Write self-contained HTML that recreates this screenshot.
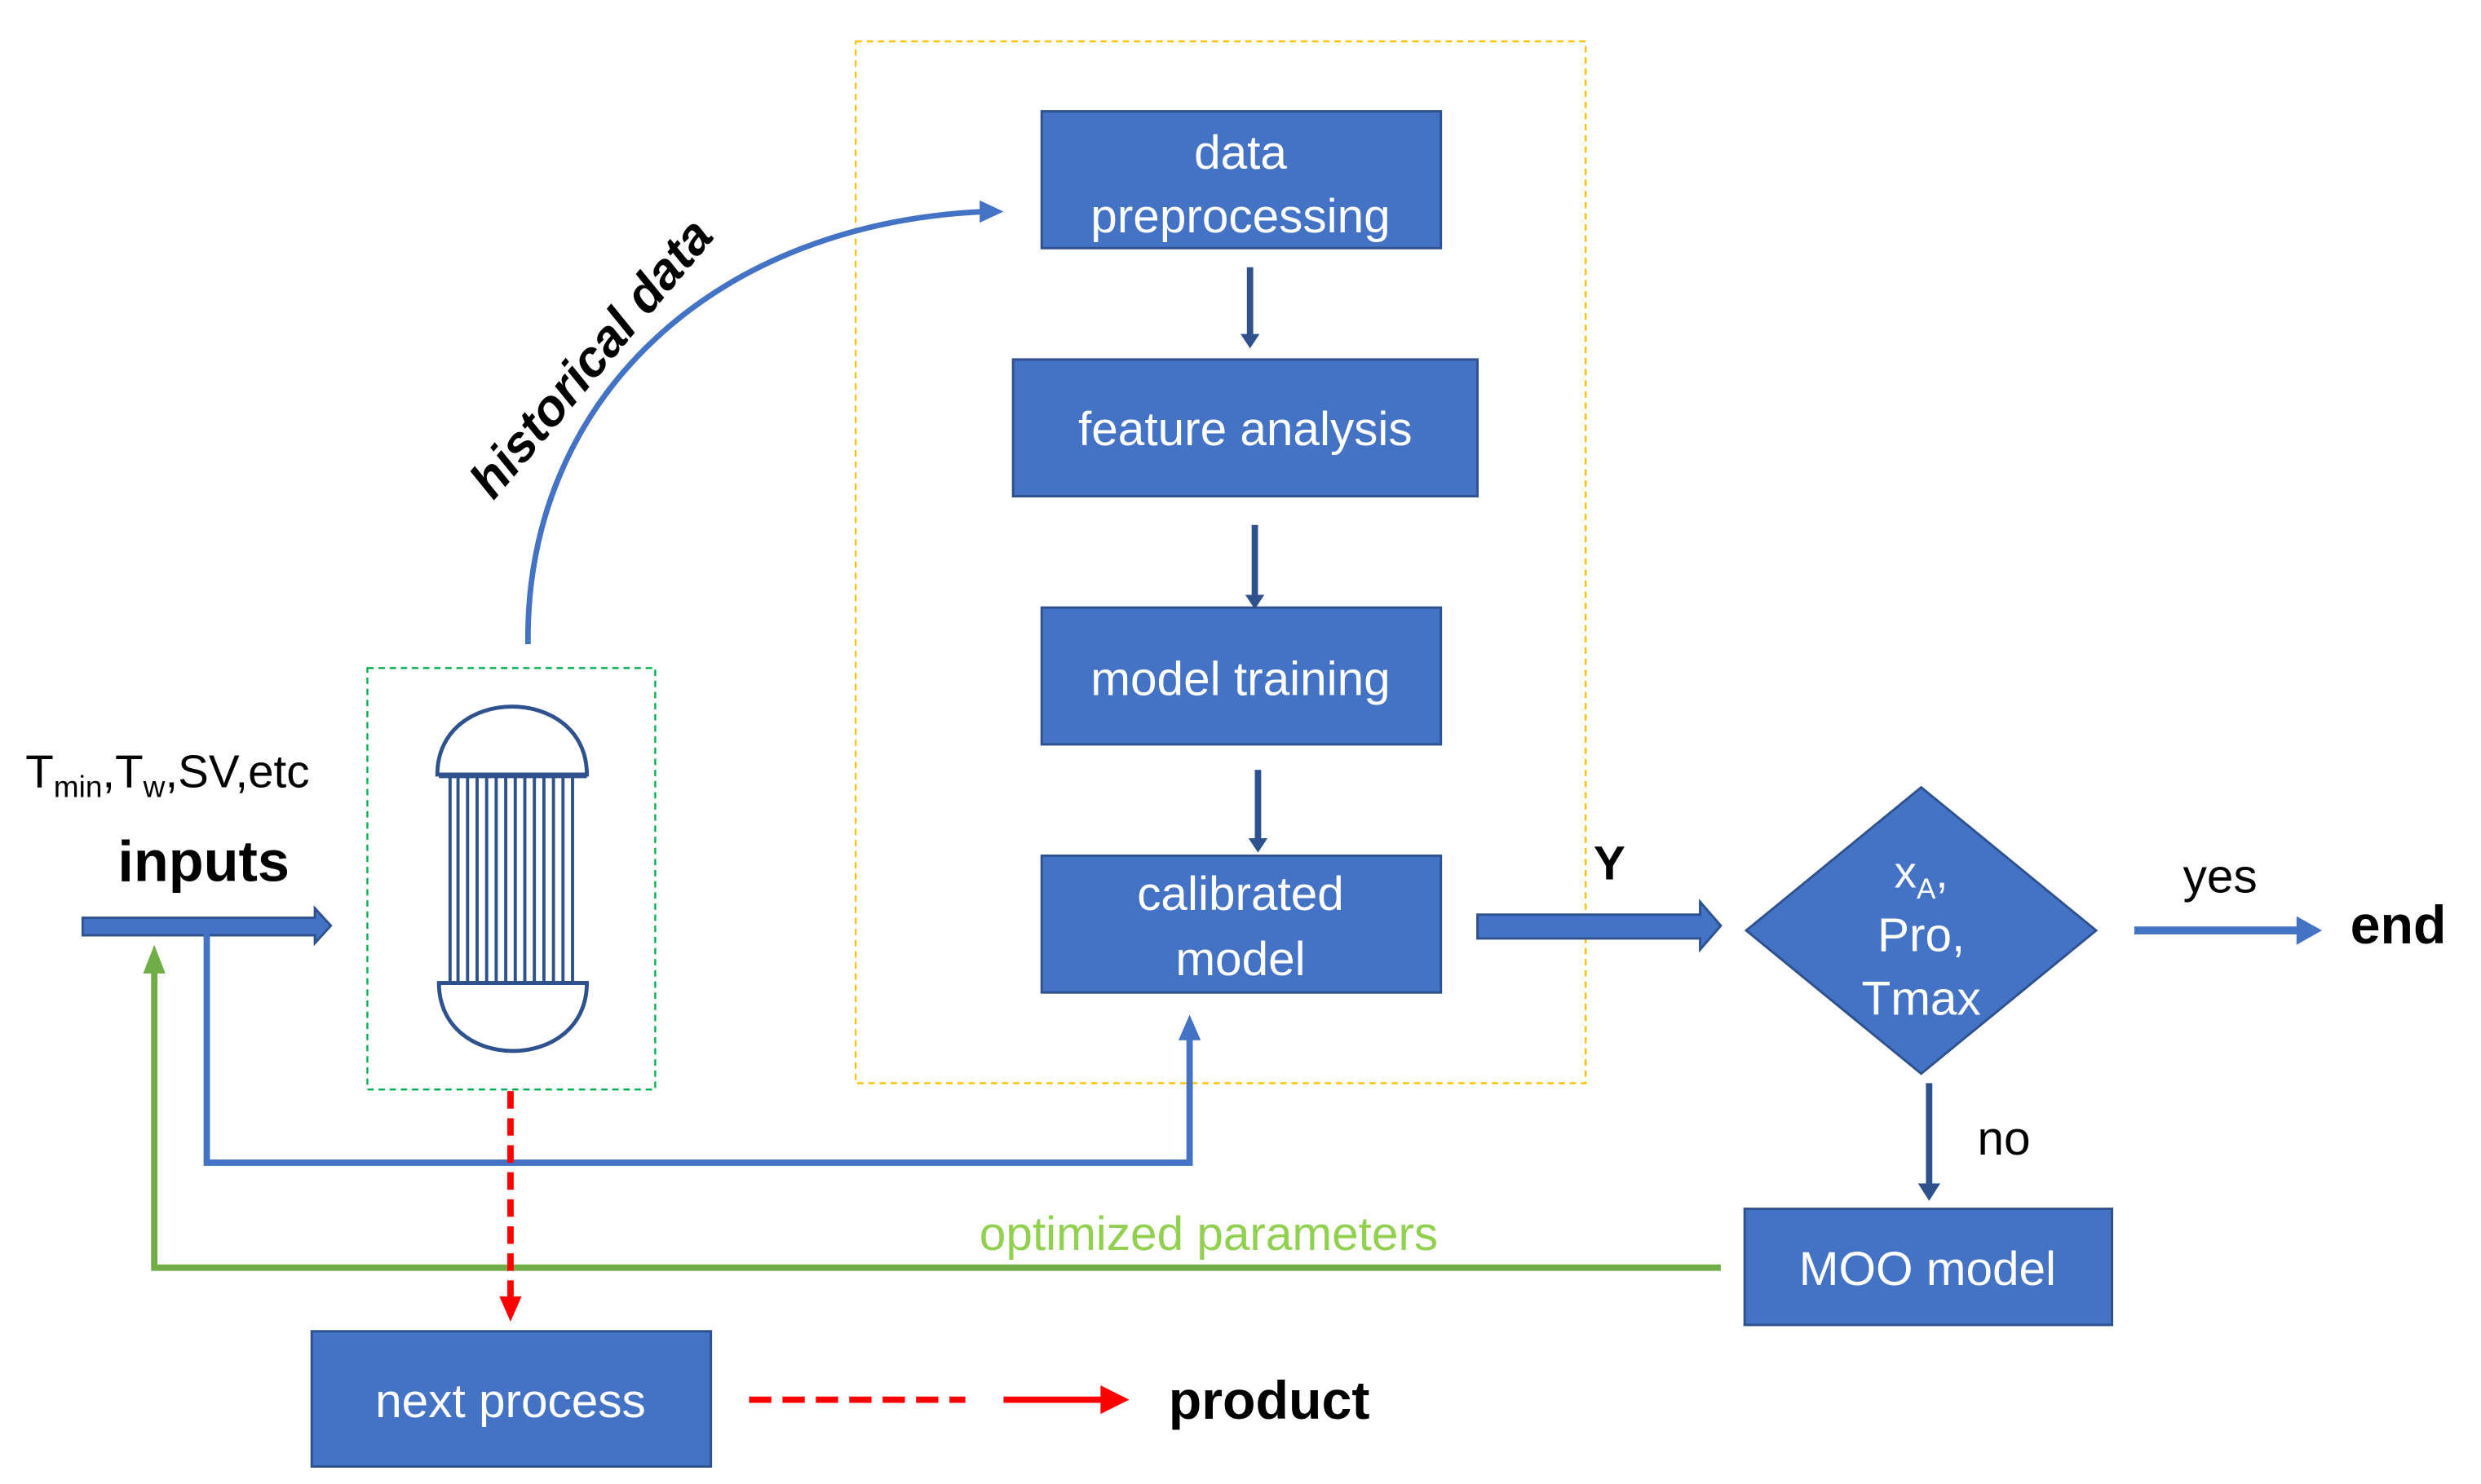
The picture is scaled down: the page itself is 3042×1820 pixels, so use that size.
<!DOCTYPE html>
<html><head><meta charset="utf-8"><style>html,body{margin:0;padding:0;background:#fff}svg{display:block}</style></head>
<body>
<svg width="3042" height="1820" viewBox="0 0 1560 933" preserveAspectRatio="none" xmlns="http://www.w3.org/2000/svg" font-family="Liberation Sans, sans-serif">
<!-- dashed boxes -->
<rect x="538" y="26" width="459" height="655" fill="none" stroke="#ffc000" stroke-width="1.2" stroke-dasharray="4,3"/>
<rect x="231" y="420" width="181" height="265" fill="none" stroke="#00b050" stroke-width="1.2" stroke-dasharray="4,3"/>
<!-- boxes -->
<g fill="#4472c4" stroke="#2f528f" stroke-width="1.5">
<rect x="655" y="70" width="251" height="86"/>
<rect x="637" y="226" width="292" height="86"/>
<rect x="655" y="382" width="251" height="86"/>
<rect x="655" y="538" width="251" height="86"/>
<rect x="1097" y="760" width="231" height="73"/>
<rect x="196" y="837" width="251" height="85"/>
<polygon points="1208,495 1318,585 1208,675 1098,585"/>
</g>
<g fill="#fff" font-size="30" text-anchor="middle">
<text x="780" y="106">data</text>
<text x="780" y="146">preprocessing</text>
<text x="783" y="280">feature analysis</text>
<text x="780" y="437">model training</text>
<text x="780" y="572">calibrated</text>
<text x="780" y="613">model</text>
<text x="1212" y="808">MOO model</text>
<text x="321" y="891">next process</text>
<text x="1208" y="558" font-size="28">x<tspan font-size="18" dy="7">A</tspan><tspan dy="-7">,</tspan></text>
<text x="1208" y="598">Pro,</text>
<text x="1208" y="638">Tmax</text>
</g>
<!-- inter-box arrows -->
<g stroke="#2f528f" stroke-width="4" fill="#2f528f">
<line x1="786" y1="168" x2="786" y2="212"/><polygon points="780,210 792,210 786,219" stroke="none"/>
<line x1="789" y1="330" x2="789" y2="376"/><polygon points="783,374 795,374 789,383" stroke="none"/>
<line x1="791" y1="484" x2="791" y2="529"/><polygon points="785,527 797,527 791,536" stroke="none"/>
<line x1="1213" y1="681" x2="1213" y2="746"/><polygon points="1206,744 1220,744 1213,755" stroke="none"/>
</g>
<!-- block arrows -->
<polygon points="52,577 198,577 198,571 208,582 198,593 198,588 52,588" fill="#4472c4" stroke="#2f528f" stroke-width="1.5"/>
<polygon points="929,575 1069,575 1069,567 1082,582 1069,597 1069,590 929,590" fill="#4472c4" stroke="#2f528f" stroke-width="1.5"/>
<line x1="1342" y1="585" x2="1448" y2="585" stroke="#4472c4" stroke-width="5"/><polygon points="1444,576 1460,585 1444,594" fill="#4472c4"/>
<!-- feedback blue -->
<polyline points="130,587 130,731 748,731 748,650" fill="none" stroke="#4472c4" stroke-width="4"/>
<polygon points="741,654 755,654 748,638" fill="#4472c4"/>
<!-- green -->
<polyline points="1082,797 97,797 97,610" fill="none" stroke="#70ad47" stroke-width="4"/>
<polygon points="90,612 104,612 97,594" fill="#70ad47"/>
<text x="760" y="786" font-size="30" fill="#92d050" text-anchor="middle">optimized parameters</text>
<!-- red -->
<line x1="321" y1="686" x2="321" y2="818" stroke="#ff0000" stroke-width="4" stroke-dasharray="11,6"/>
<polygon points="314,815 328,815 321,831" fill="#ff0000"/>
<line x1="471" y1="880" x2="607" y2="880" stroke="#ff0000" stroke-width="4" stroke-dasharray="14,7"/>
<line x1="631" y1="880" x2="695" y2="880" stroke="#ff0000" stroke-width="4"/>
<polygon points="692,871 710,880 692,889" fill="#ff0000"/>
<!-- curve -->
<path d="M332,405 C330,250 450,140 620,133" fill="none" stroke="#4472c4" stroke-width="3.5"/>
<polygon points="616,126 631,133 616,140" fill="#4472c4"/>
<text transform="translate(380,232) rotate(-50)" font-size="32" font-weight="bold" font-style="italic" text-anchor="middle" fill="#000">historical data</text>
<!-- reactor -->
<g fill="none" stroke="#2f528f" stroke-width="2.5">
<path d="M275,487 C275,430 369,430 369,487 Z"/>
<path d="M276,618 C276,675 369,675 369,618 Z"/>
<line x1="276" y1="488" x2="369" y2="488"/>
<line x1="276" y1="618" x2="369" y2="618"/>
</g>
<g stroke="#2f528f" stroke-width="2">
<line x1="283" y1="488" x2="283" y2="618"/><line x1="288" y1="488" x2="288" y2="618"/>
<line x1="294" y1="488" x2="294" y2="618"/><line x1="300" y1="488" x2="300" y2="618"/>
<line x1="306" y1="488" x2="306" y2="618"/><line x1="312" y1="488" x2="312" y2="618"/>
<line x1="318" y1="488" x2="318" y2="618"/><line x1="324" y1="488" x2="324" y2="618"/>
<line x1="330" y1="488" x2="330" y2="618"/><line x1="336" y1="488" x2="336" y2="618"/>
<line x1="342" y1="488" x2="342" y2="618"/><line x1="348" y1="488" x2="348" y2="618"/>
<line x1="354" y1="488" x2="354" y2="618"/><line x1="360" y1="488" x2="360" y2="618"/>
</g>
<!-- labels -->
<text x="16" y="495" font-size="29" fill="#000">T<tspan font-size="19" dy="6">min</tspan><tspan dy="-6">,T</tspan><tspan font-size="19" dy="6">w</tspan><tspan dy="-6">,SV,etc</tspan></text>
<text x="128" y="554" font-size="36" font-weight="bold" text-anchor="middle" fill="#000">inputs</text>
<text x="1012" y="553" font-size="30" font-weight="bold" text-anchor="middle" fill="#000">Y</text>
<text x="1396" y="561" font-size="30" text-anchor="middle" fill="#000">yes</text>
<text x="1508" y="593" font-size="34" font-weight="bold" text-anchor="middle" fill="#000">end</text>
<text x="1260" y="726" font-size="30" text-anchor="middle" fill="#000">no</text>
<text x="798" y="892" font-size="34" font-weight="bold" text-anchor="middle" fill="#000">product</text>
</svg>
</body></html>
